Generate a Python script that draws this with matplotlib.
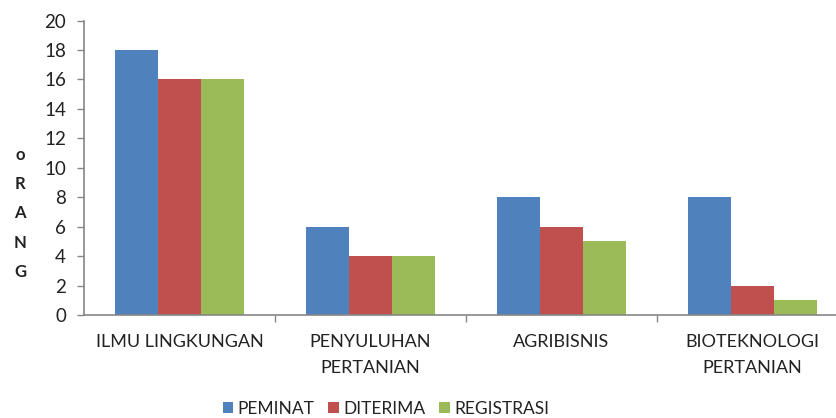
import matplotlib
matplotlib.use("Agg")
import matplotlib.pyplot as plt
import numpy as np
from matplotlib.patches import Patch

plt.rcParams['font.family'] = ['Lato', 'DejaVu Sans']

categories = ["ILMU LINGKUNGAN", "PENYULUHAN\nPERTANIAN", "AGRIBISNIS", "BIOTEKNOLOGI\nPERTANIAN"]
series_names = ["PEMINAT", "DITERIMA", "REGISTRASI"]
peminat = [18, 6, 8, 8]
diterima = [16, 4, 6, 2]
registrasi = [16, 4, 5, 1]
colors = ["#4F81BD", "#C0504D", "#9BBB59"]
ylabel_letters = ["o", "R", "A", "N", "G"]

fig = plt.figure(figsize=(8.37, 4.18), dpi=100)
ax = fig.add_axes([84/837, 103/418, 764/837, 294.5/418])

x = np.arange(len(categories))
w = 0.225
for i, (vals, c) in enumerate(zip([peminat, diterima, registrasi], colors)):
    ax.bar(x + (i - 1) * w, vals, width=w, color=c, edgecolor='none')

ax.set_xlim(-0.5, len(categories) - 0.5)
ax.set_ylim(0, 20)
ax.set_yticks(np.arange(0, 21, 2))
ax.set_xticks(x)
ax.set_xticklabels(categories, fontsize=13, color='#222222', linespacing=1.75)
ax.set_xticks(np.arange(0.5, len(categories) - 0.5, 1), minor=True)
ax.tick_params(axis='x', which='major', length=0, pad=14)
ax.tick_params(axis='x', which='minor', length=5, color='#868686', width=1)
ax.tick_params(axis='y', length=5, color='#868686', width=1, labelsize=13.5, labelcolor='#222222', pad=8)
for s in ['top', 'right']:
    ax.spines[s].set_visible(False)
for s in ['left', 'bottom']:
    ax.spines[s].set_color('#868686')
    ax.spines[s].set_linewidth(1.2)

ypos = np.linspace(1 - 155/418, 1 - 272/418, len(ylabel_letters))
for letter, yy in zip(ylabel_letters, ypos):
    fig.text(20/837, yy, letter, ha='center', va='center',
             fontsize=12, fontweight='bold', color='#222222')

handles = [Patch(facecolor=c, edgecolor='none') for c in colors]
fig.legend(handles, series_names, loc='center', bbox_to_anchor=(386/837, 1 - 409/418),
           ncol=3, frameon=False, fontsize=12.5, handlelength=0.6, handleheight=0.6,
           handletextpad=0.25, columnspacing=0.8, labelcolor='#222222')

fig.savefig("out.png", dpi=100)
